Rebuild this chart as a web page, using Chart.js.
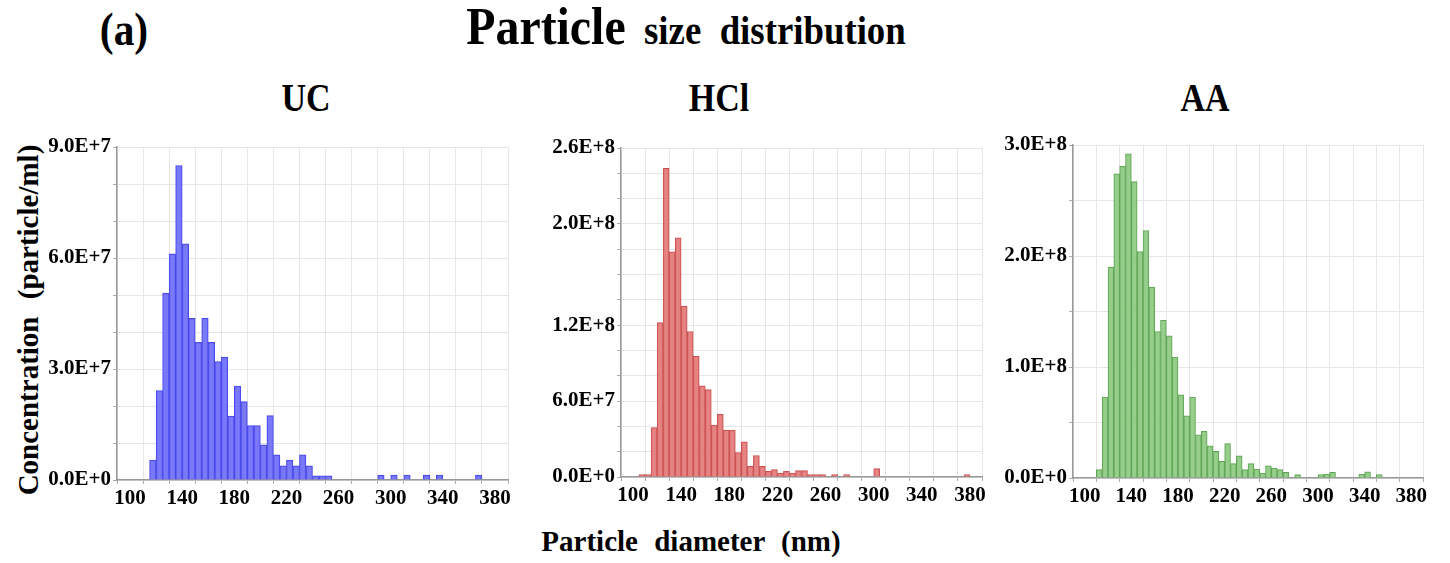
<!DOCTYPE html>
<html>
<head>
<meta charset="utf-8">
<script src="https://cdn.jsdelivr.net/npm/chart.js@4.4.1/dist/chart.umd.min.js"></script>
<style>
  body { margin: 0; background: #fff; width: 1450px; height: 563px; overflow: hidden; position: relative; font-family: "Liberation Serif", "DejaVu Serif", serif; font-weight: bold; color: #000; }
  .txt { position: absolute; white-space: nowrap; line-height: 1; transform: translate(-50%, -50%); }
  .box { position: absolute; }
</style>
</head>
<body>
<div class="txt" style="left:124px; top:30px; font-size:46px; transform: translate(-50%, -50%) scaleX(0.9);">(a)</div>
<div class="txt" style="left:686px; top:27px; transform: translate(-50%, -50%) scaleX(0.92);"><span style="font-size:52px;">Particle</span><span style="font-size:40px; word-spacing:10px;"> size distribution</span></div>
<div class="txt" style="left:306px; top:98px; font-size:40px; transform: translate(-50%, -50%) scaleX(0.85);">UC</div>
<div class="txt" style="left:719px; top:98px; font-size:40px; transform: translate(-50%, -50%) scaleX(0.85);">HCl</div>
<div class="txt" style="left:1205px; top:98px; font-size:40px; transform: translate(-50%, -50%) scaleX(0.85);">AA</div>
<div class="txt" style="left:28px; top:320px; font-size:29px; word-spacing:10px; transform: translate(-50%, -50%) rotate(-90deg);">Concentration (particle/ml)</div>
<div class="txt" style="left:691px; top:541px; font-size:29px; word-spacing:9px;">Particle diameter (nm)</div>

<div class="box" style="left:40px; top:130px;"><canvas id="uc" width="480" height="390"></canvas></div>
<div class="box" style="left:540px; top:130px;"><canvas id="hcl" width="460" height="390"></canvas></div>
<div class="box" style="left:990px; top:130px;"><canvas id="aa" width="460" height="390"></canvas></div>

<script>
// bin centres (nm) and concentrations (particle/ml), 5 nm bins
const ucBins = [117.5, 122.5, 127.5, 132.5, 137.5, 142.5, 147.5, 152.5, 157.5, 162.5, 167.5, 172.5, 177.5, 182.5,
  187.5, 192.5, 197.5, 202.5, 207.5, 212.5, 217.5, 222.5, 227.5, 232.5, 237.5, 242.5, 247.5, 252.5,
  292.5, 302.5, 312.5, 327.5, 337.5, 367.5];
const ucValues = [0.54e7, 2.42e7, 5.05e7, 6.11e7, 8.5e7, 6.38e7, 4.37e7, 3.72e7, 4.37e7, 3.72e7, 3.2e7, 3.32e7, 1.73e7, 2.54e7,
  2.12e7, 1.47e7, 1.47e7, 0.95e7, 1.74e7, 0.68e7, 0.38e7, 0.54e7, 0.38e7, 0.68e7, 0.38e7, 0.11e7, 0.11e7, 0.11e7,
  0.13e7, 0.13e7, 0.13e7, 0.13e7, 0.13e7, 0.13e7];

const hclBins = [107.5, 112.5, 117.5, 122.5, 127.5, 132.5, 137.5, 142.5, 147.5, 152.5, 157.5, 162.5, 167.5, 172.5,
  177.5, 182.5, 187.5, 192.5, 197.5, 202.5, 207.5, 212.5, 217.5, 222.5, 227.5, 232.5, 237.5, 242.5,
  247.5, 252.5, 257.5, 267.5, 277.5, 302.5, 377.5];
const hclValues = [0.2e7, 0.2e7, 3.9e7, 12.2e7, 24.4e7, 17.8e7, 18.9e7, 13.5e7, 11.5e7, 9.55e7, 7.2e7, 6.9e7, 4.1e7, 4.96e7,
  3.7e7, 3.7e7, 1.93e7, 2.77e7, 0.84e7, 1.7e7, 0.84e7, 0.45e7, 0.58e7, 0.3e7, 0.45e7, 0.3e7, 0.5e7, 0.5e7,
  0.2e7, 0.2e7, 0.2e7, 0.2e7, 0.2e7, 0.66e7, 0.2e7];

const aaBins = [112.5, 117.5, 122.5, 127.5, 132.5, 137.5, 142.5, 147.5, 152.5, 157.5, 162.5, 167.5, 172.5, 177.5,
  182.5, 187.5, 192.5, 197.5, 202.5, 207.5, 212.5, 217.5, 222.5, 227.5, 232.5, 237.5, 242.5, 247.5,
  252.5, 257.5, 262.5, 267.5, 272.5, 282.5, 302.5, 307.5, 312.5, 337.5, 342.5, 352.5];
const aaValues = [0.75e7, 7.3e7, 19.0e7, 27.4e7, 28.1e7, 29.2e7, 26.7e7, 20.4e7, 22.3e7, 17.2e7, 13.2e7, 14.2e7, 12.8e7, 10.9e7,
  7.5e7, 5.6e7, 7.3e7, 3.9e7, 4.2e7, 2.9e7, 2.4e7, 1.5e7, 3.1e7, 1.3e7, 2.0e7, 0.75e7, 1.3e7, 0.8e7,
  0.45e7, 1.1e7, 0.9e7, 0.75e7, 0.5e7, 0.3e7, 0.3e7, 0.36e7, 0.5e7, 0.36e7, 0.55e7, 0.3e7];

// labelled ticks
const xLabels = [100, 140, 180, 220, 260, 300, 340, 380];
const ucYLabels = [0, 3e7, 6e7, 9e7];
const hclYLabels = [0, 6e7, 1.2e8, 2.0e8, 2.6e8];
const aaYLabels = [0, 1e8, 2e8, 3e8];

const tickFont = { family: 'Liberation Serif', weight: 'bold', size: 21 };

function makeChart(id, bins, values, fill, edge, yMax, yStep, yLabels, pad, yWidth, xHeight) {
  new Chart(document.getElementById(id), {
    type: 'bar',
    data: {
      datasets: [{
        data: bins.map((b, i) => ({ x: b, y: values[i] })),
        backgroundColor: fill,
        borderColor: edge,
        borderWidth: 1,
        barPercentage: 1,
        categoryPercentage: 1
      }]
    },
    options: {
      responsive: false,
      animation: false,
      devicePixelRatio: 1,
      layout: { padding: pad },
      plugins: { legend: { display: false }, tooltip: { enabled: false } },
      scales: {
        x: {
          type: 'linear', min: 100, max: 380,
          ticks: {
            stepSize: 20, autoSkip: false, maxRotation: 0, padding: 2, color: '#000', font: tickFont,
            callback: v => xLabels.includes(Math.round(v)) ? String(Math.round(v)) : ''
          },
          grid: { color: '#e6e6e6', tickColor: '#aaa', tickLength: 4 },
          border: { color: '#999', width: 1.5 },
          afterFit: s => { s.height = xHeight; }
        },
        y: {
          min: 0, max: yMax,
          ticks: {
            stepSize: yStep, autoSkip: false, padding: 2, color: '#000', font: tickFont,
            callback: v => yLabels.some(l => Math.abs(l - v) < yStep / 10) ? v.toExponential(1).toUpperCase() : ''
          },
          grid: { color: '#e6e6e6', tickColor: '#aaa', tickLength: 4 },
          border: { color: '#999', width: 1.5 },
          afterFit: s => { s.width = yWidth; }
        }
      }
    }
  });
}

makeChart('uc', ucBins, ucValues, 'rgba(110,110,250,0.92)', 'rgb(72,72,235)', 9e7, 1e7, ucYLabels,
  { left: 0, right: 12, top: 17, bottom: 0 }, 77, 40);
makeChart('hcl', hclBins, hclValues, 'rgba(228,120,120,0.92)', 'rgb(200,82,82)', 2.6e8, 2e7, hclYLabels,
  { left: 0, right: 18, top: 18, bottom: 0 }, 81, 43);
makeChart('aa', aaBins, aaValues, 'rgba(142,202,130,0.92)', 'rgb(96,165,86)', 3e8, 5e7, aaYLabels,
  { left: 0, right: 27, top: 15, bottom: 0 }, 83, 42);
</script>
</body>
</html>
